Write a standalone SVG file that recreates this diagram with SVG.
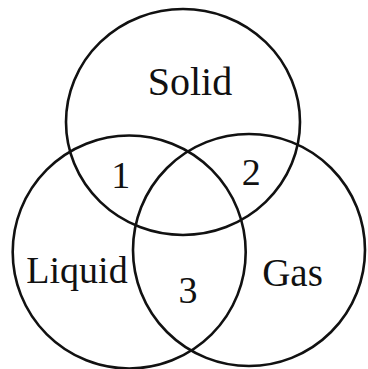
<svg xmlns="http://www.w3.org/2000/svg" width="368" height="369" viewBox="0 0 368 369">
<style>
.c{fill:none;stroke:#111;stroke-width:2.6}
.t{font-family:"Liberation Serif","DejaVu Serif",serif;fill:#111;text-anchor:middle}
</style>
<rect width="368" height="369" fill="#fff"/>
<g id="solid">
<ellipse class="c" cx="183" cy="122" rx="117" ry="113"/>
<text class="t" x="190" y="95" font-size="40">Solid</text>
</g>
<g id="liquid">
<circle class="c" cx="129.2" cy="252" r="116.5"/>
<text class="t" x="77" y="283" font-size="38">Liquid</text>
</g>
<g id="gas">
<circle class="c" cx="249" cy="250" r="116"/>
<text class="t" x="292.5" y="286" font-size="39">Gas</text>
</g>
<g id="regions">
<text class="t" x="120.8" y="188" font-size="38">1</text>
<text class="t" x="251.3" y="185" font-size="38">2</text>
<text class="t" x="188" y="303" font-size="38">3</text>
</g>
</svg>
